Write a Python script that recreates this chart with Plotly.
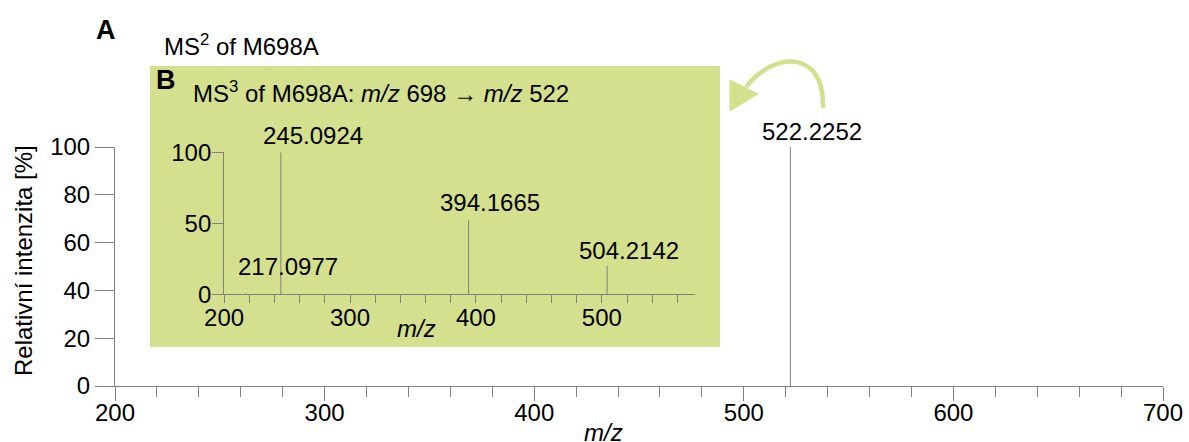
import plotly.graph_objects as go

# MS2 spectrum of M698A (main panel)
ms2_mz = [522.2252]
ms2_intensity = [100]

# MS3 spectrum of M698A, m/z 698 -> m/z 522 (inset panel)
ms3_mz = [217.0977, 245.0924, 394.1665, 504.2142]
ms3_intensity = [1, 100, 52, 20]

main_x_ticks = [200, 300, 400, 500, 600, 700]
main_y_ticks = [0, 20, 40, 60, 80, 100]
inset_x_ticks = [200, 300, 400, 500]
inset_y_ticks = [0, 50, 100]

# label offsets (pixels) relative to the top of each peak
ms2_label_shift = [(22, 15)]
ms3_label_shift = [(42, 26), (32, 17), (21, 18), (22, 15)]

W, H = 1189, 442
FONT = "Liberation Sans, Arial, sans-serif"
AXIS = "#808080"
GREEN = "#d5e08e"


def fx(px):
    return px / W


def fy(py):
    return 1 - py / H


def stems(xs, ys):
    sx, sy = [], []
    for x, y in zip(xs, ys):
        sx += [x, x, None]
        sy += [0, y, None]
    return sx, sy


fig = go.Figure()

x1, y1 = stems(ms2_mz, ms2_intensity)
fig.add_trace(go.Scatter(x=x1, y=y1, mode="lines", xaxis="x", yaxis="y",
                         line=dict(color=AXIS, width=1), hoverinfo="skip"))
x2, y2 = stems(ms3_mz, ms3_intensity)
fig.add_trace(go.Scatter(x=x2, y=y2, mode="lines", xaxis="x2", yaxis="y2",
                         line=dict(color=AXIS, width=1), hoverinfo="skip"))

tickfont = dict(family=FONT, size=24, color="#000000")

fig.update_layout(
    width=W, height=H, autosize=False,
    margin=dict(l=0, r=0, t=0, b=0),
    paper_bgcolor="white", plot_bgcolor="rgba(0,0,0,0)",
    showlegend=False,
    font=dict(family=FONT, size=24, color="#000000"),
    xaxis=dict(domain=[fx(115), fx(1163)], range=[200, 700], tickvals=main_x_ticks,
               showgrid=False, zeroline=False, showline=True, linecolor=AXIS, linewidth=1,
               ticks="outside", ticklen=14, tickcolor=AXIS, tickwidth=1, tickfont=tickfont,
               ticklabelstandoff=-9,
               minor=dict(dtick=20, tick0=200, ticks="outside", ticklen=10, tickcolor=AXIS, tickwidth=1),
               anchor="y", automargin=False, fixedrange=True),
    yaxis=dict(domain=[fy(386), fy(147)], range=[0, 100], tickvals=main_y_ticks,
               showgrid=False, zeroline=False, showline=True, linecolor=AXIS, linewidth=1,
               ticks="outside", ticklen=19, tickcolor=AXIS, tickwidth=1, tickfont=tickfont,
               anchor="x", automargin=False, fixedrange=True),
    xaxis2=dict(domain=[fx(224.1), fx(695)], range=[200, 574], tickvals=inset_x_ticks,
                showgrid=False, zeroline=False, showline=True, linecolor=AXIS, linewidth=1,
                ticks="outside", ticklen=8, tickcolor=AXIS, tickwidth=1, tickfont=tickfont,
                ticklabelstandoff=-6,
                minor=dict(dtick=20, tick0=200, ticks="outside", ticklen=8, tickcolor=AXIS, tickwidth=1),
                anchor="y2", automargin=False, fixedrange=True),
    yaxis2=dict(domain=[fy(294.3), fy(152.3)], range=[0, 100], tickvals=inset_y_ticks,
                showgrid=False, zeroline=False, showline=True, linecolor=AXIS, linewidth=1,
                ticks="outside", ticklen=11, tickcolor=AXIS, tickwidth=1, tickfont=tickfont,
                ticklabelstandoff=-4,
                anchor="x2", automargin=False, fixedrange=True),
)

# inset background
fig.add_shape(type="rect", xref="paper", yref="paper", layer="below",
              x0=fx(150), x1=fx(720), y0=fy(347), y1=fy(66),
              fillcolor=GREEN, line=dict(width=0))

# curved arrow pointing from the precursor peak to the inset
def P(px, py):
    return f"{fx(px):.5f},{fy(py):.5f}"

curve = f"M {P(823, 108)} C {P(825, 50)} {P(775, 50)} {P(746, 87)}"
fig.add_shape(type="path", xref="paper", yref="paper", path=curve,
              line=dict(color=GREEN, width=4.5))
head = f"M {P(730, 80)} L {P(758, 94)} L {P(730, 111)} Z"
fig.add_shape(type="path", xref="paper", yref="paper", path=head,
              fillcolor=GREEN, line=dict(color=GREEN, width=1))

ann = []
for mz, inten, (dx, dy) in zip(ms2_mz, ms2_intensity, ms2_label_shift):
    ann.append(dict(x=mz, y=inten, xref="x", yref="y", text=f"{mz:.4f}", showarrow=False,
                    xanchor="center", yanchor="middle", xshift=dx, yshift=dy,
                    font=dict(family=FONT, size=24, color="#000000")))
for mz, inten, (dx, dy) in zip(ms3_mz, ms3_intensity, ms3_label_shift):
    ann.append(dict(x=mz, y=inten, xref="x2", yref="y2", text=f"{mz:.4f}", showarrow=False,
                    xanchor="center", yanchor="middle", xshift=dx, yshift=dy,
                    font=dict(family=FONT, size=24, color="#000000")))


def text_at(px, py, text, size=24, xanchor="center", bold=False, angle=0):
    ann.append(dict(x=fx(px), y=fy(py), xref="paper", yref="paper", text=text,
                    showarrow=False, xanchor=xanchor, yanchor="middle", textangle=angle,
                    font=dict(family=FONT, size=size, color="#000000",
                              weight="bold" if bold else "normal")))


text_at(106, 30, "A", size=27, bold=True)
text_at(165.5, 80, "B", size=27, bold=True)
text_at(162, 45, "MS<sup>2</sup> of M698A", xanchor="left")
text_at(191, 92, "MS<sup>3</sup> of M698A: <i>m/z</i> 698 → <i>m/z</i> 522", xanchor="left")
text_at(416, 328, "<i>m/z</i>")
text_at(603, 432, "<i>m/z</i>")
text_at(23, 261, "Relativní intenzita [%]", angle=-90)

fig.update_layout(annotations=ann)

fig.write_html("out.html")
